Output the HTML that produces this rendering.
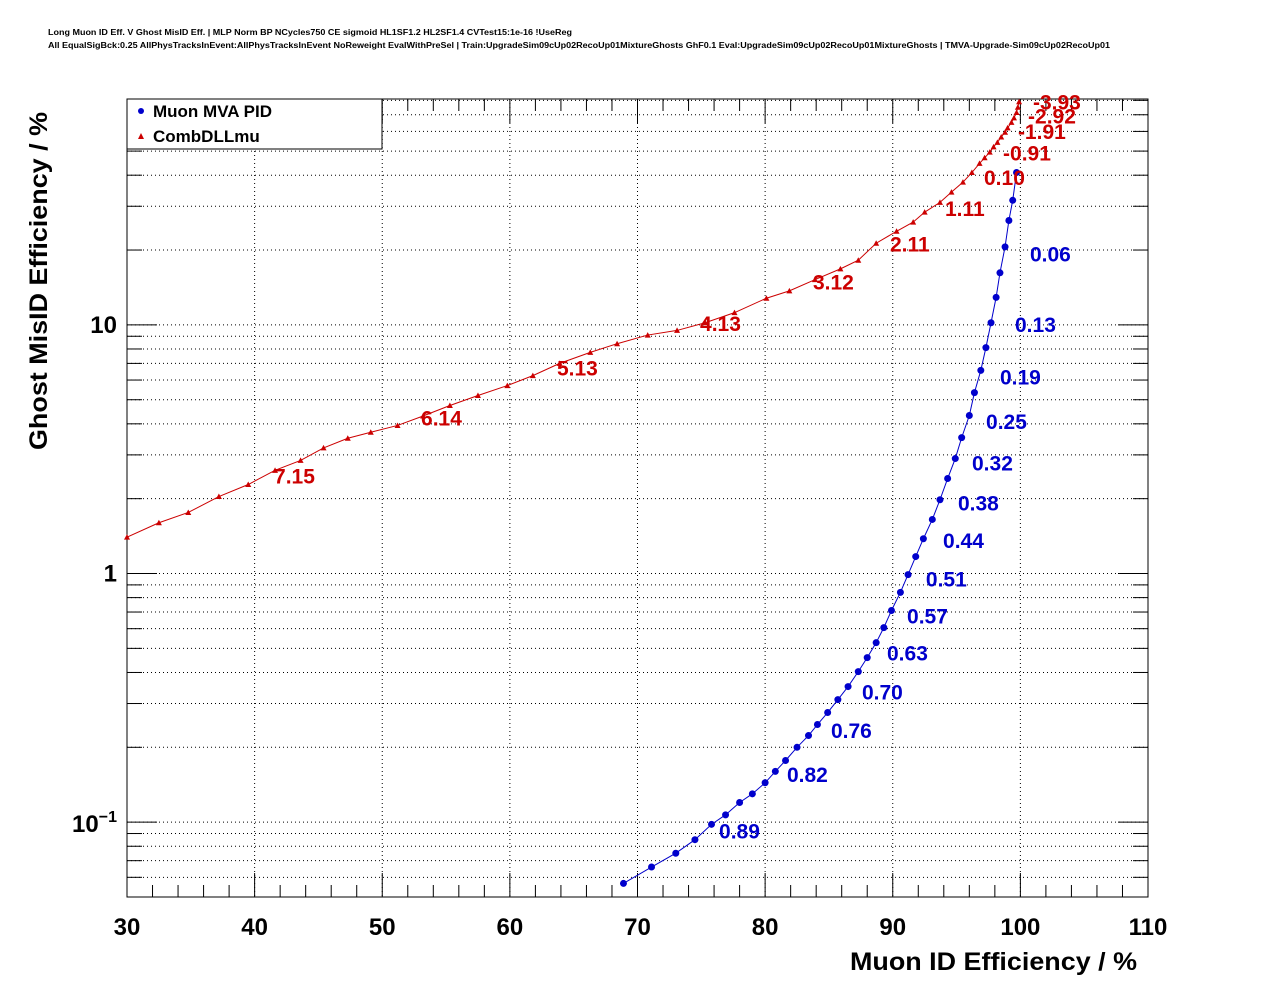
<!DOCTYPE html>
<html><head><meta charset="utf-8"><style>
body{margin:0;background:#fff;}
svg{display:block;font-family:"Liberation Sans",Arial,sans-serif;}
</style></head><body>
<svg id="chart" width="1276" height="996" xmlns="http://www.w3.org/2000/svg">
<text x="48" y="35" font-size="8" font-weight="bold" textLength="524" lengthAdjust="spacingAndGlyphs">Long Muon ID Eff. V Ghost MisID Eff. | MLP Norm BP NCycles750 CE sigmoid HL1SF1.2 HL2SF1.4 CVTest15:1e-16 !UseReg</text>
<text x="48" y="48" font-size="8" font-weight="bold" textLength="1062" lengthAdjust="spacingAndGlyphs">All EqualSigBck:0.25 AllPhysTracksInEvent:AllPhysTracksInEvent NoReweight EvalWithPreSel | Train:UpgradeSim09cUp02RecoUp01MixtureGhosts GhF0.1 Eval:UpgradeSim09cUp02RecoUp01MixtureGhosts | TMVA-Upgrade-Sim09cUp02RecoUp01</text>
<g id="grid"></g><g id="axes"></g><g id="series"></g><g id="labels"></g>
<g>
<rect x="127" y="99" width="255" height="50" fill="#fff" stroke="#000" stroke-width="1"/>
<circle cx="141" cy="111" r="3" fill="#0000cc"/>
<text x="153" y="117" font-size="17" font-weight="bold">Muon MVA PID</text>
<path d="M138,139 L144,139 L141,133 Z" fill="#cc0000"/>
<text x="153" y="142" font-size="17" font-weight="bold">CombDLLmu</text>
</g>
<text x="850" y="970" font-size="25" font-weight="bold" textLength="287" lengthAdjust="spacingAndGlyphs">Muon ID Efficiency / %</text>
<text transform="translate(47,450) rotate(-90)" font-size="25" font-weight="bold" textLength="338" lengthAdjust="spacingAndGlyphs">Ghost MisID Efficiency / %</text>
</svg>
<script>
const blueX=[68.9,71.1,73.0,74.5,75.8,76.9,78.0,79.0,80.0,80.8,81.6,82.5,83.4,84.1,84.9,85.7,86.5,87.3,88.0,88.7,89.3,89.9,90.6,91.2,91.8,92.4,93.1,93.7,94.3,94.9,95.4,96.0,96.4,96.9,97.3,97.7,98.1,98.4,98.8,99.1,99.4,99.7];
const blueY=[0.0567,0.066,0.075,0.085,0.098,0.107,0.12,0.13,0.144,0.16,0.177,0.2,0.223,0.247,0.276,0.311,0.351,0.403,0.459,0.527,0.606,0.71,0.84,0.99,1.17,1.38,1.65,1.98,2.41,2.9,3.52,4.32,5.34,6.56,8.1,10.2,12.9,16.2,20.6,26.3,31.7,41];
const redX=[30,32.5,34.8,37.2,39.5,41.6,43.6,45.4,47.3,49.1,51.2,53.2,55.3,57.5,59.8,61.8,63.9,66.3,68.4,70.8,73.1,75.3,77.6,80.1,81.9,83.9,85.9,87.3,88.7,90.3,91.6,92.5,93.7,94.6,95.5,96.2,96.8,97.2,97.6,97.9,98.2,98.5,98.8,99.0,99.3,99.5,99.7,99.8,99.9];
const redY=[1.40,1.6,1.76,2.04,2.28,2.6,2.85,3.2,3.5,3.7,3.94,4.3,4.74,5.2,5.7,6.25,7.0,7.75,8.4,9.1,9.5,10.2,11.2,12.8,13.7,15.2,16.8,18.2,21.3,23.8,25.9,28.4,31.1,34.2,37.5,41,44.6,47,49.5,52,54.2,57,59.5,62,65.2,68,71.5,75,79];
const blueLabels=["0.06","0.13","0.19","0.25","0.32","0.38","0.44","0.51","0.57","0.63","0.70","0.76","0.82","0.89"];
const blueLabX=[100.75,99.58,98.40,97.31,96.21,95.11,93.94,92.60,91.12,89.55,87.59,85.16,81.71,76.39];
const blueLabY=[19.2,10.0,6.15,4.06,2.77,1.91,1.35,0.946,0.671,0.477,0.332,0.233,0.155,0.0916];
const redLabels=["7.15","6.14","5.13","4.13","3.12","2.11","1.11","0.10","-0.91","-1.91","-2.92","-3.93"];
const redLabX=[41.52,53.04,63.69,74.90,83.75,89.78,94.09,97.15,98.64,99.81,100.60,100.99];
const redLabY=[2.46,4.2,6.68,10.1,14.8,21.1,29.2,38.9,49.0,59.6,69.0,78.5];
const xTicks=[30,40,50,60,70,80,90,100,110];

const NS="http://www.w3.org/2000/svg";
const L=127,R=1148,T=99,B=897;
const xmin=30,xmax=110,ymin=0.05,ymax=81;
const X=v=>L+(v-xmin)/(xmax-xmin)*(R-L);
const Y=v=>B-(Math.log10(v)-Math.log10(ymin))/(Math.log10(ymax)-Math.log10(ymin))*(B-T);
function mk(tag,attrs,parent){const e=document.createElementNS(NS,tag);for(const k in attrs)e.setAttribute(k,attrs[k]);parent.appendChild(e);return e;}
const grid=document.getElementById('grid'),axes=document.getElementById('axes'),ser=document.getElementById('series'),lab=document.getElementById('labels');
xTicks.forEach(v=>{
 const g=mk('line',{x1:X(v),x2:X(v),y1:T,y2:B,stroke:'#000','stroke-width':1,'stroke-dasharray':'1,3'},grid);
 
 
 const t=mk('text',{x:X(v),y:935,'font-size':24,'font-weight':'bold','text-anchor':'middle'},axes);
 t.textContent=v;
 
 
});
for(let v=30;v<=110;v+=2){const big=v%10===0;
 mk('line',{x1:X(v),x2:X(v),y1:B,y2:B-(big?24:12),stroke:'#000'},axes);
 mk('line',{x1:X(v),x2:X(v),y1:T,y2:T+(big?24:12),stroke:'#000'},axes);}
for(let d=-2;d<=1;d++){for(let m=1;m<=9;m++){const v=m*Math.pow(10,d);if(v<ymin||v>ymax)continue;
 const y=Y(v);
 const g=mk('line',{x1:L,x2:R,y1:y,y2:y,stroke:'#000','stroke-width':1,'stroke-dasharray':'1,3'},grid);
 
 
 const len=m===1?30:15;
 mk('line',{x1:L,x2:L+len,y1:y,y2:y,stroke:'#000'},axes);
 mk('line',{x1:R,x2:R-len,y1:y,y2:y,stroke:'#000'},axes);}}
[[10,'10'],[1,'1']].forEach(([v,s])=>{const t=mk('text',{x:117,y:Y(v)+8,'font-size':24,'font-weight':'bold','text-anchor':'end'},axes);t.textContent=s;
 
 });
{const t=mk('text',{x:117,y:Y(0.1)+10,'font-size':24,'font-weight':'bold','text-anchor':'end'},axes);
 t.innerHTML='10<tspan dy="-10" font-size="16">−1</tspan>';
 
 }
const fr=mk('rect',{x:L,y:T,width:R-L,height:B-T,fill:'none',stroke:'#000','stroke-width':1},axes);


function poly(xs,ys,col,name){const p=mk('polyline',{points:xs.map((x,i)=>X(x)+','+Y(ys[i])).join(' '),fill:'none',stroke:col,'stroke-width':1},ser);
 
 }
poly(redX,redY,'#cc0000','combdllmu-line');
poly(blueX,blueY,'#0000cc','muon-mva-line');
redX.forEach((x,i)=>{const cx=X(x),cy=Y(redY[i]);
 const p=mk('path',{d:`M${cx-3},${cy+2.5} L${cx+3},${cy+2.5} L${cx},${cy-3} Z`,fill:'#cc0000'},ser);
 
 });
blueX.forEach((x,i)=>{const c=mk('circle',{cx:X(x),cy:Y(blueY[i]),r:3.5,fill:'#0000cc'},ser);
 
 });
function labs(t,xs,ys,col,name){t.forEach((s,i)=>{const e=mk('text',{x:X(xs[i]),y:Y(ys[i])+7,'font-size':21,'font-weight':'bold',fill:col},lab);e.textContent=s;
 
 });}
labs(redLabels,redLabX,redLabY,'#cc0000','combdllmu-cut-label');
labs(blueLabels,blueLabX,blueLabY,'#0000cc','muon-mva-cut-label');
</script>
</body></html>
